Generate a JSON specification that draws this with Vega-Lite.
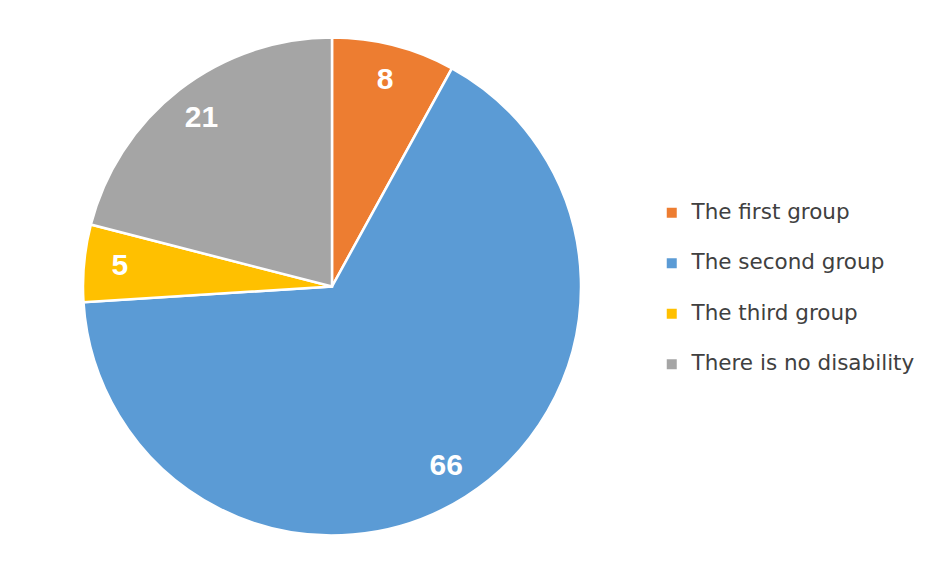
{
  "$schema": "https://vega.github.io/schema/vega-lite/v6.json",
  "width": 664,
  "height": 555,
  "padding": {"top": 9, "left": 0, "right": 0, "bottom": 0},
  "background": "white",
  "data": {
    "values": [
      {"group": "The first group", "value": 8, "order": 1},
      {"group": "The second group", "value": 66, "order": 2},
      {"group": "The third group", "value": 5, "order": 3},
      {"group": "There is no disability", "value": 21, "order": 4}
    ]
  },
  "encoding": {
    "theta": {"field": "value", "type": "quantitative", "stack": true},
    "order": {"field": "order", "type": "quantitative"},
    "color": {
      "field": "group",
      "type": "nominal",
      "sort": ["The first group", "The second group", "The third group", "There is no disability"],
      "scale": {
        "domain": ["The first group", "The second group", "The third group", "There is no disability"],
        "range": ["#ED7D31", "#5B9BD5", "#FFC000", "#A5A5A5"]
      },
      "legend": {
        "title": null,
        "orient": "none",
        "legendX": 661,
        "legendY": 193,
        "symbolType": "square",
        "symbolSize": 100,
        "symbolStrokeWidth": 0,
        "labelFont": "DejaVu Sans",
        "labelFontSize": 21.5,
        "labelColor": "#404040",
        "labelOffset": 9,
        "labelLimit": 0,
        "rowPadding": 27.5,
        "padding": 0
      }
    }
  },
  "layer": [
    {
      "mark": {"type": "arc", "outerRadius": 249, "stroke": "white", "strokeWidth": 2.5}
    },
    {
      "mark": {
        "type": "text",
        "radius": 213,
        "font": "Liberation Sans",
        "fontSize": 30,
        "fontWeight": "bold",
        "fill": "white",
        "baseline": "middle",
        "align": "center"
      },
      "encoding": {
        "text": {"field": "value", "type": "quantitative"},
        "color": {"value": "white"}
      }
    }
  ],
  "config": {"view": {"stroke": null}}
}
